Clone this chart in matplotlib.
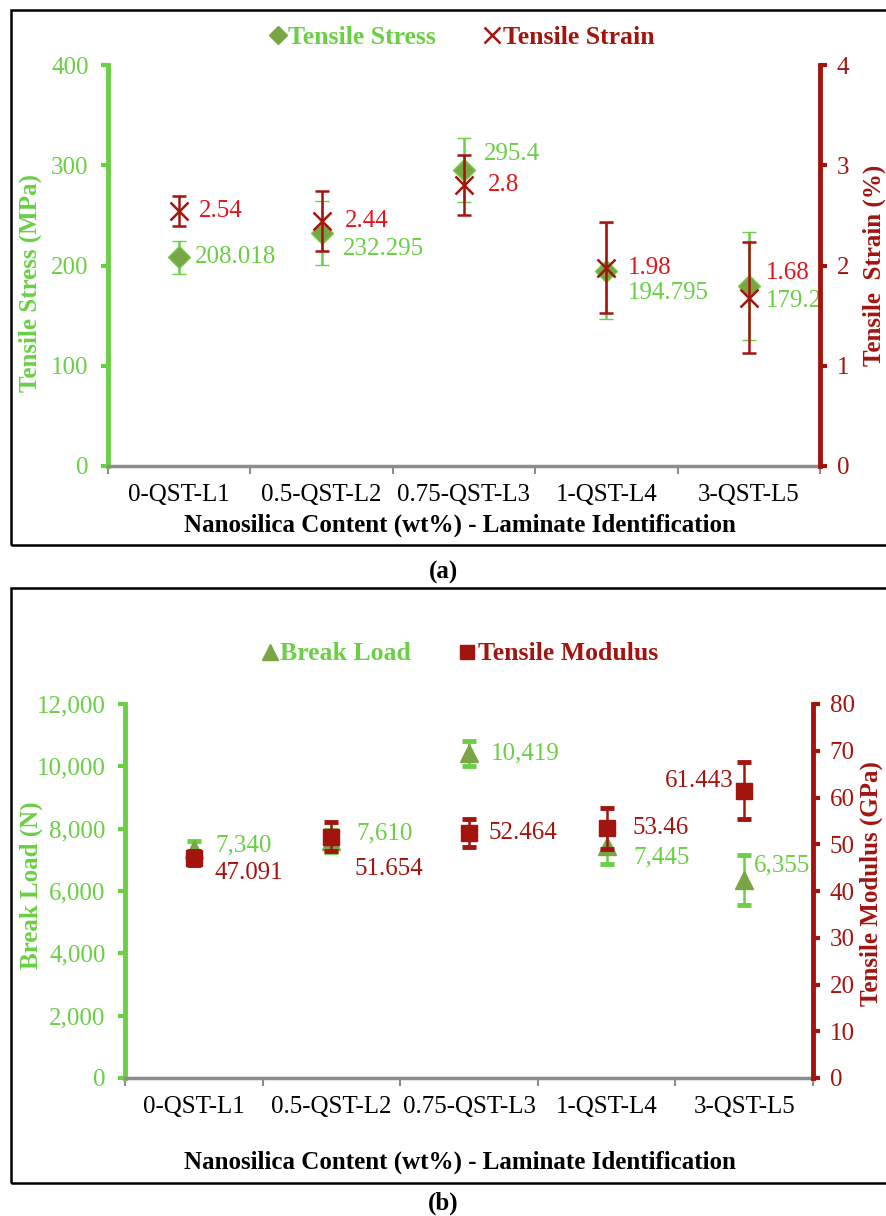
import numpy as np
import matplotlib
matplotlib.use("Agg")
import matplotlib.pyplot as plt
from matplotlib.lines import Line2D
from matplotlib.patches import Rectangle

plt.rcParams['font.family'] = ['Liberation Serif', 'DejaVu Serif']

categories = ['0-QST-L1', '0.5-QST-L2', '0.75-QST-L3', '1-QST-L4', '3-QST-L5']

# (a) tensile stress / strain
stress = [208.018, 232.295, 295.4, 194.795, 179.2]
stress_err = [16, 32, 32, 48, 54]
strain = [2.54, 2.44, 2.8, 1.98, 1.68]
strain_err = [0.15, 0.30, 0.30, 0.45, 0.55]
stress_labels = ['208.018', '232.295', '295.4', '194.795', '179.2']
strain_labels = ['2.54', '2.44', '2.8', '1.98', '1.68']

# (b) break load / modulus
load = [7340, 7610, 10419, 7445, 6355]
load_err = [250, 350, 400, 575, 800]
modulus = [47.091, 51.654, 52.464, 53.46, 61.443]
modulus_err = [1.5, 3.0, 3.0, 4.4, 6.1]
load_labels = ['7,340', '7,610', '10,419', '7,445', '6,355']
modulus_labels = ['47.091', '51.654', '52.464', '53.46', '61.443']

# label offsets in pixels (dx, dy)
stress_off = [(16, 0), (21, -16), (20, 16), (21, -22), (17, -15)]
strain_off = [(20, 0), (23, 0), (24, 0), (21, 0), (17, 25)]
load_off = [(22, 4), (25, 7), (22, 0), (27, -11), (10, 14)]
modulus_off = [(21, -15), (23, -32), (20, 0), (26, 0), (-11, 10)]

GREEN = '#6ACF45'
OLIVE = '#79A545'
DARKRED = '#A3140F'
RED = '#E3141B'
GREY = '#8C8C8C'
FS = 18
BFS = 18

fig = plt.figure(figsize=(8.86, 12.16), dpi=100)
W, H = 886, 1216


def fig_box(x0, y0, x1, y1):
    return [x0 / W, 1 - y1 / H, (x1 - x0) / W, (y1 - y0) / H]


def style_axes(ax, axr, lcolor, rcolor):
    x = np.arange(len(categories)) + 0.5
    ax.set_xlim(0, len(categories))
    ax.set_xticks(np.arange(len(categories) + 1))
    ax.set_xticklabels([])
    ax.set_xticks(x, minor=True)
    ax.set_xticklabels(categories, minor=True, fontsize=FS)
    ax.tick_params(axis='x', which='major', direction='out', length=6, width=1.5, color=GREY)
    ax.tick_params(axis='x', which='minor', length=0, pad=13)
    for s in ['top', 'right']:
        ax.spines[s].set_visible(False)
    ax.spines['bottom'].set_color(GREY)
    ax.spines['bottom'].set_linewidth(2.5)
    ax.spines['left'].set_color(lcolor)
    ax.spines['left'].set_linewidth(3.5)
    ax.tick_params(axis='y', direction='out', length=5, width=3, color=lcolor,
                   labelcolor=lcolor, labelsize=FS, pad=9)
    for s in ['top', 'left', 'bottom']:
        axr.spines[s].set_visible(False)
    axr.spines['right'].set_color(rcolor)
    axr.spines['right'].set_linewidth(3.5)
    axr.tick_params(axis='y', direction='out', length=5, width=3, color=rcolor,
                    labelcolor=rcolor, labelsize=FS, pad=7)
    return x


def add_labels(ax, x, vals, texts, offs, color):
    for xi, v, t, (dx, dy) in zip(x, vals, texts, offs):
        align = 'right' if dx < 0 else 'left'
        ax.annotate(t, (xi, v), xytext=(dx * 0.72, dy * 0.72), textcoords='offset points',
                    ha=align, va='center', fontsize=FS, color=color)


# ---------------- (a) ----------------
ax1 = fig.add_axes(fig_box(108, 65, 820, 466))
ax1r = ax1.twinx()
x = style_axes(ax1, ax1r, GREEN, DARKRED)
ax1.set_ylim(0, 400)
ax1.set_yticks([0, 100, 200, 300, 400])
ax1r.set_ylim(0, 4)
ax1r.set_yticks([0, 1, 2, 3, 4])

ax1.errorbar(x, stress, yerr=stress_err, fmt='D', ms=11, mfc=OLIVE, mec=GREEN, mew=1,
             ecolor=GREEN, elinewidth=1.8, capsize=5, capthick=3.5, zorder=3)
ax1r.errorbar(x, strain, yerr=strain_err, fmt='x', ms=13, mec=DARKRED, mew=1.8,
              ecolor=DARKRED, elinewidth=1.8, capsize=5, capthick=3.5, zorder=3)
add_labels(ax1, x, stress, stress_labels, stress_off, GREEN)
add_labels(ax1r, x, strain, strain_labels, strain_off, RED)

ax1.set_ylabel('Tensile Stress (MPa)', fontsize=BFS, fontweight='bold', color=GREEN)
ax1.yaxis.set_label_coords(-0.093, 0.456)
ax1r.set_ylabel('Tensile  Strain (%)', fontsize=BFS, fontweight='bold', color=DARKRED)
ax1r.yaxis.set_label_coords(1.06, 0.5)
fig.text(460 / W, 1 - 525 / H, 'Nanosilica Content (wt%) - Laminate Identification',
         ha='center', va='center', fontsize=BFS, fontweight='bold')

h1 = [Line2D([], [], ls='none', marker='D', ms=9, mfc=OLIVE, mec=OLIVE),
      Line2D([], [], ls='none', marker='x', ms=11, mec=DARKRED, mew=1.8)]
leg1 = fig.legend(h1, ['Tensile Stress', 'Tensile Strain'], loc='center',
                  bbox_to_anchor=(462 / W, 1 - 37 / H), ncol=2, frameon=False,
                  handlelength=0.6, handletextpad=0.1, columnspacing=1.9,
                  prop={'size': 18.5, 'weight': 'bold'})
for t, c in zip(leg1.get_texts(), [GREEN, DARKRED]):
    t.set_color(c)

# ---------------- (b) ----------------
ax2 = fig.add_axes(fig_box(125, 704, 813, 1078))
ax2r = ax2.twinx()
x = style_axes(ax2, ax2r, GREEN, DARKRED)
ax2.set_ylim(0, 12000)
ax2.set_yticks(np.arange(0, 12001, 2000))
ax2.yaxis.set_major_formatter(matplotlib.ticker.StrMethodFormatter('{x:,.0f}'))
ax2r.set_ylim(0, 80)
ax2r.set_yticks(np.arange(0, 81, 10))

ax2.errorbar(x, load, yerr=load_err, fmt='^', ms=13, mfc=OLIVE, mec=OLIVE,
             ecolor=GREEN, elinewidth=1.8, capsize=5, capthick=3.5, zorder=3)
ax2r.errorbar(x, modulus, yerr=modulus_err, fmt='s', ms=12, mfc=DARKRED, mec=DARKRED,
              ecolor=DARKRED, elinewidth=1.8, capsize=5, capthick=3.5, zorder=3)
add_labels(ax2, x, load, load_labels, load_off, GREEN)
add_labels(ax2r, x, modulus, modulus_labels, modulus_off, DARKRED)

ax2.set_ylabel('Break Load (N)', fontsize=BFS, fontweight='bold', color=GREEN)
ax2.yaxis.set_label_coords(-0.119, 0.516)
ax2r.set_ylabel('Tensile Modulus (GPa)', fontsize=BFS, fontweight='bold', color=DARKRED)
ax2r.yaxis.set_label_coords(1.068, 0.521)
fig.text(460 / W, 1 - 1162 / H, 'Nanosilica Content (wt%) - Laminate Identification',
         ha='center', va='center', fontsize=BFS, fontweight='bold')

h2 = [Line2D([], [], ls='none', marker='^', ms=11, mfc=OLIVE, mec=OLIVE),
      Line2D([], [], ls='none', marker='s', ms=10, mfc=DARKRED, mec=DARKRED)]
leg2 = fig.legend(h2, ['Break Load', 'Tensile Modulus'], loc='center',
                  bbox_to_anchor=(460 / W, 1 - 654 / H), ncol=2, frameon=False,
                  handlelength=0.6, handletextpad=0.1, columnspacing=1.9,
                  prop={'size': 18.5, 'weight': 'bold'})
for t, c in zip(leg2.get_texts(), [GREEN, DARKRED]):
    t.set_color(c)

# panel frames and captions
for y0, y1 in [(10, 545), (588, 1183)]:
    fig.patches.append(Rectangle((11 / W, 1 - y1 / H), 890 / W, (y1 - y0) / H,
                                 transform=fig.transFigure, fill=False,
                                 edgecolor='black', linewidth=1.8))
fig.text(443 / W, 1 - 572 / H, '(a)', ha='center', va='center', fontsize=18, fontweight='bold')
fig.text(443 / W, 1 - 1203 / H, '(b)', ha='center', va='center', fontsize=18, fontweight='bold')

fig.savefig('out.png', dpi=100)
